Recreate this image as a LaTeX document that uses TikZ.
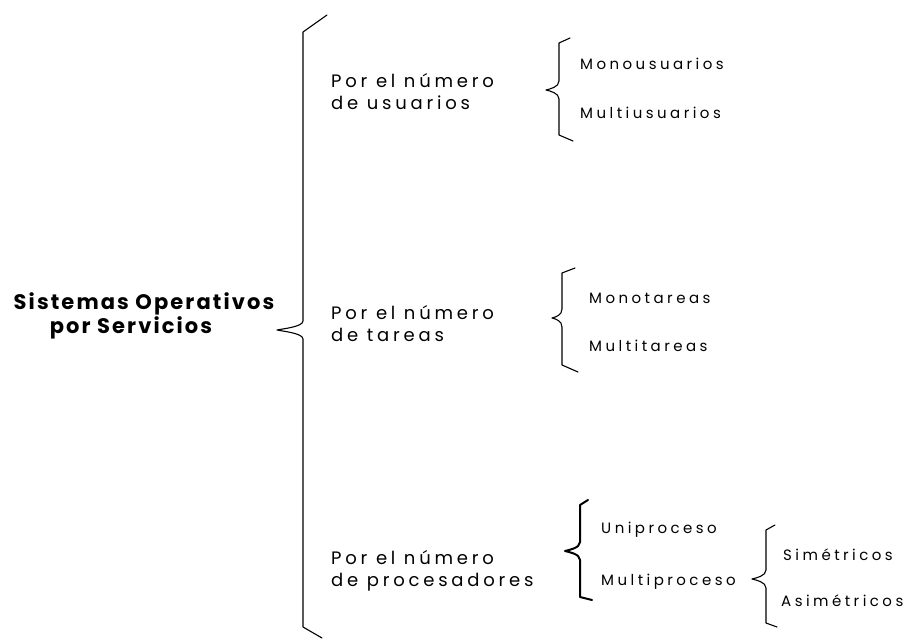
\documentclass[tikz,border=0pt]{standalone}
\usepackage{fontspec}
\setmainfont{Poppins}
\newfontfamily\grpfont[LetterSpace=21]{Poppins}
\newfontfamily\itmfont[LetterSpace=23]{Poppins}
\newfontfamily\ttlfont[LetterSpace=10]{Poppins}
\tikzset{
  grp/.style={anchor=base west, inner sep=0pt, font=\grpfont\fontsize{18}{22}\selectfont, align=left},
  itm/.style={anchor=base west, inner sep=0pt, font=\itmfont\fontsize{15}{18}\selectfont},
  ttl/.style={inner sep=0pt, font=\ttlfont\bfseries\fontsize{21}{22}\selectfont, align=center},
  brc/.style={line width=1.1pt, line join=round, line cap=round},
}
% #1 style extra, #2 line x, #3 top y, #4 tip x, #5 tip y, #6 bottom y, #7 top hook end, #8 bottom hook end
\newcommand\drawbrace[8]{%
  \draw[brc,#1] #7 -- (#2,#3) -- (#2,{#5-9})
    .. controls (#2,{#5-3}) and ({#4+4},{#5-1}) .. (#4,#5)
    .. controls ({#4+4},{#5+1}) and (#2,{#5+3}) .. (#2,{#5+9})
    -- (#2,#6) -- #8;}
\begin{document}
\begin{tikzpicture}[x=1pt,y=-1pt]
\useasboundingbox (0,0) rectangle (905,639);
\fill[white] (0,0) rectangle (905,639);

% title: anchor on baseline of the last line
\node[ttl, anchor=base] (title) at (144,333) {Sistemas Operativos\\por Servicios\hspace*{26pt}};

\drawbrace{}{303}{32}{277}{330}{627}{(327,15)}{(322,638)}

% groups: base anchor = baseline of the last line
\node[grp] (g1) at (331,110) {Por el número\\de usuarios};
\node[grp] (g2) at (331,341) {Por el número\\de tareas};
\node[grp] (g3) at (331,586) {Por el número\\de procesadores};

\drawbrace{}{559}{43}{546}{90}{135}{(570,38)}{(573,141)}
\node[itm] (m1) at (580,70) {Monousuarios};
\node[itm] (m2) at (580,119) {Multiusuarios};

\drawbrace{}{562}{273}{552}{318}{365}{(575,268)}{(578,372)}
\node[itm] (t1) at (589,303) {Monotareas};
\node[itm] (t2) at (589,351) {Multitareas};

\drawbrace{line width=2pt}{580}{505}{565}{551}{597}{(588,500)}{(592,600)}
\node[itm] (p1) at (601,533) {Uniproceso};
\node[itm] (p2) at (601,585) {Multiproceso};

\drawbrace{}{766}{530}{752}{579}{623}{(775,525)}{(777,627)}
\node[itm] (s1) at (783,560) {Simétricos};
\node[itm] (s2) at (781,606) {Asimétricos};
\end{tikzpicture}
\end{document}
